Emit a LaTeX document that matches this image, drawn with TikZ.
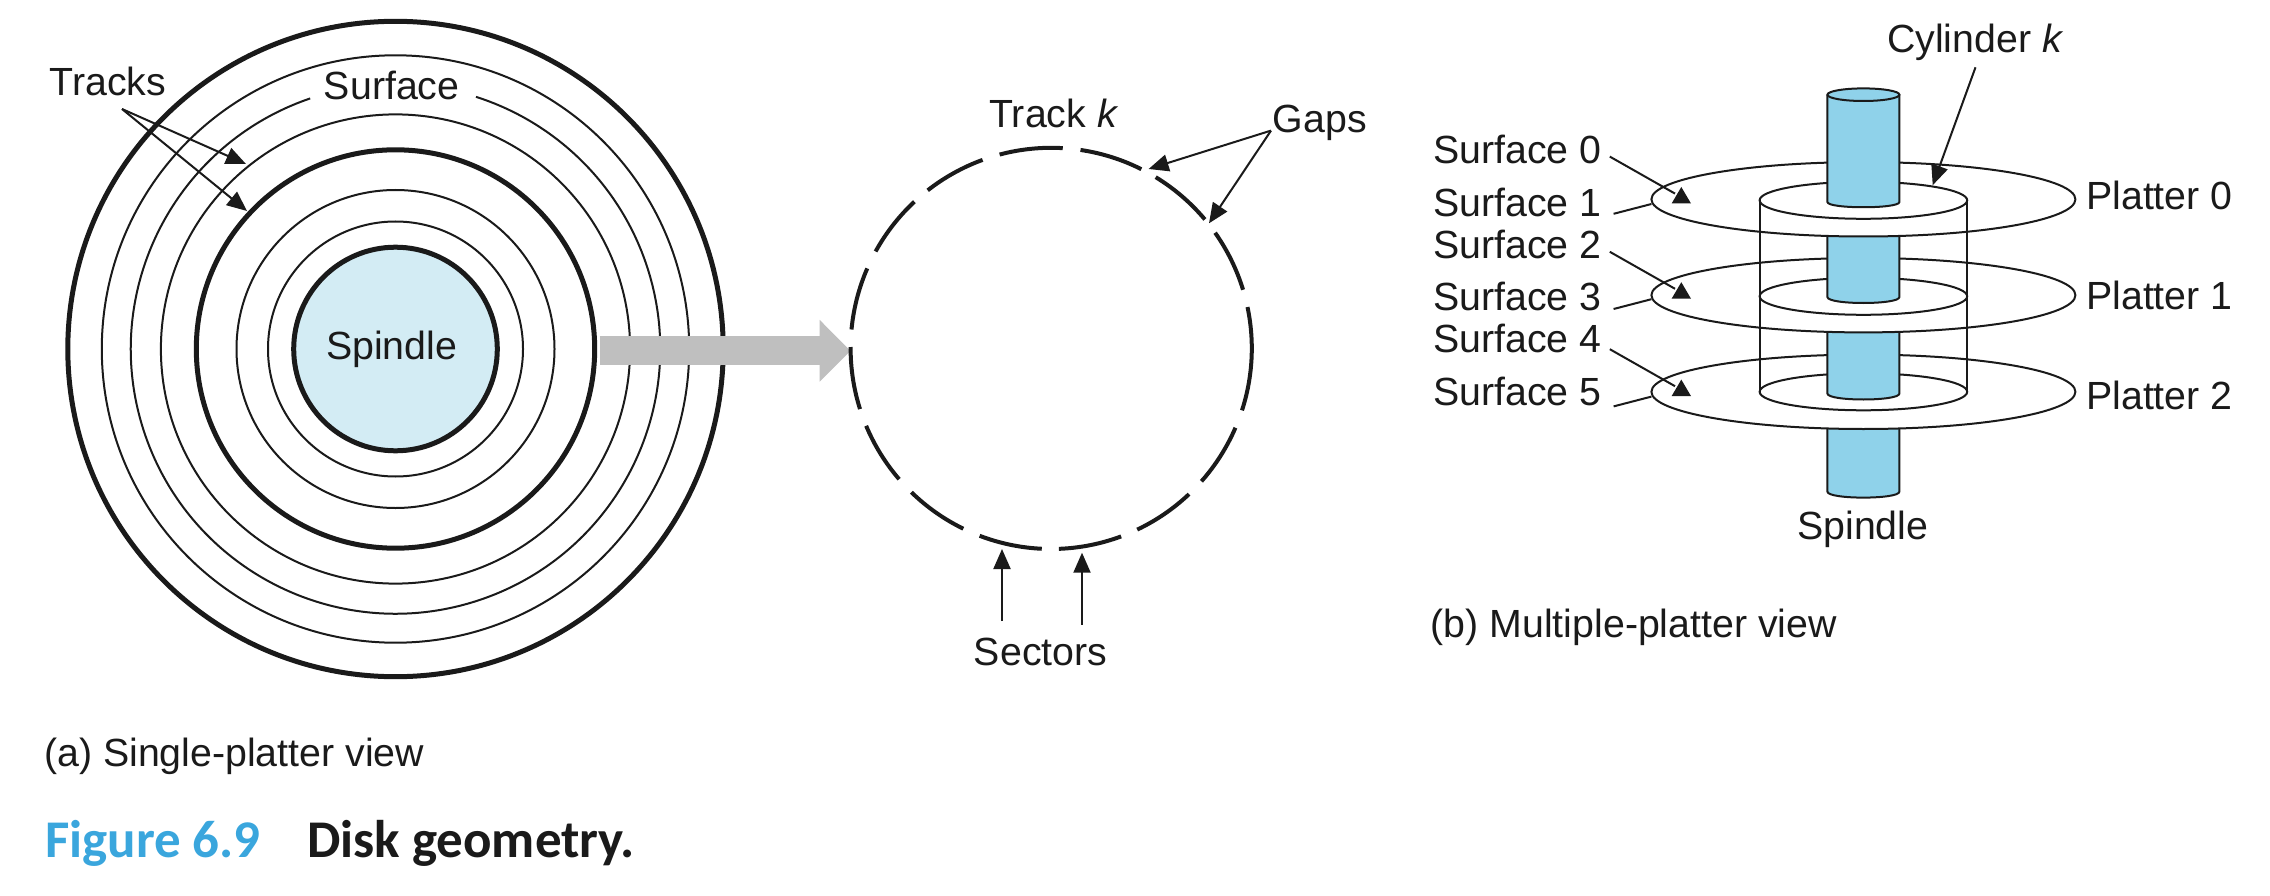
\documentclass[tikz,border=0pt]{standalone}
\usepackage{fontspec}
\setmainfont{Liberation Sans}
\newfontfamily\capfont{Carlito}
\usetikzlibrary{arrows.meta}
\definecolor{spindlelight}{HTML}{D3ECF4}
\definecolor{spindleblue}{HTML}{8FD2EA}
\definecolor{arrowgray}{HTML}{BFBFBF}
\definecolor{figblue}{HTML}{3AA6DD}
\definecolor{inkblack}{HTML}{1A1A1A}

\begin{document}
\begin{tikzpicture}[
    x=1pt, y=1pt,
    color=inkblack,
    label/.style={anchor=base, inner sep=0pt, text=inkblack, font=\fontsize{39.3}{44}\selectfont},
    leftlabel/.style={label, anchor=base west},
    thinring/.style={line width=2pt},
    thickring/.style={line width=5pt},
    sector/.style={line width=4pt},
    pointer/.style={line width=2pt, -{Triangle[length=20pt,width=17pt]}},
    leader/.style={line width=2pt},
    rim/.style={line width=2pt, fill=white},
    spindlepart/.style={line width=2pt, fill=spindleblue},
    bigarrow/.style={draw=arrowgray, line width=29pt, -{Triangle[length=31pt,width=60pt,color=arrowgray]}}
]
    \useasboundingbox (0,0) rectangle (2270,-896);

    % single platter
    \coordinate (disk) at (395.5,-349);
    \draw[thickring] (disk) circle (327.7);
    \draw[thickring] (disk) circle (199.2);
    \draw[thickring, fill=spindlelight] (disk) circle (101.8);
    \foreach \r in {293.7,234.6,159,127.5}
        \draw[thinring] (disk) circle (\r);
    \draw[thinring] (disk) ++(108.8:264.7) arc [start angle=108.8, end angle=432.3, radius=264.7];
    \draw[bigarrow] (599.5,-350.8) -- (850.6,-350.8);

    \node[label] (tracks) at (108,-95.5) {Tracks};
    \node[label] (surface) at (391.7,-99.6) {Surface};
    \node[label] (spindlea) at (391.7,-359) {Spindle};
    \coordinate (tracksfork) at (122,-109);
    \coordinate (trackone) at (246,-164);
    \coordinate (tracktwo) at (247,-211);
    \draw[pointer] (tracksfork) -- (trackone);
    \draw[pointer] (tracksfork) -- (tracktwo);

    % one track
    \coordinate (track) at (1051.2,-348.4);
    \foreach \a/\b in {81.6/63.3, 58.6/40, 35.2/17, 11.9/-18, -23.3/-41.5, -46.6/-64.6,
        -69.6/-87.8, -92.7/-110.9, -116/-134.2, -139.3/-157.3, -162.4/-180.4,
        174.6/156.5, 151.1/133, 128/110, 104.9/86.7}
        \draw[sector] (track) ++(\a:200.6) arc [start angle=\a, end angle=\b, radius=200.6];

    \node[label] (trackk) at (1053.9,-128) {Track \textit{k}};
    \node[label] (gaps) at (1319.8,-132.6) {Gaps};
    \node[label] (sectors) at (1040.6,-665) {Sectors};
    \coordinate (gapsfork) at (1271,-130.6);
    \coordinate (gapone) at (1148.6,-169);
    \coordinate (gaptwo) at (1209,-223.3);
    \draw[pointer] (gapsfork) -- (gapone);
    \draw[pointer] (gapsfork) -- (gaptwo);
    \coordinate (sectorone) at (1002,-549);
    \coordinate (sectortwo) at (1082,-552.7);
    \draw[pointer] (1002,-621) -- (sectorone);
    \draw[pointer] (1082,-624.5) -- (sectortwo);

    % platters, bottom one first
    \draw[spindlepart] (1827.4,-420) -- (1827.4,-491.6) .. controls (1827.4,-499.6) and (1899.4,-499.6) .. (1899.4,-491.6) -- (1899.4,-420);
    \draw[rim] (1863.4,-391.8) ellipse (212 and 37.2);
    \draw[rim] (1863.4,-391.8) ellipse (103.8 and 18.5);
    \draw[spindlepart] (1827.4,-320) -- (1827.4,-393.5) .. controls (1827.4,-401.5) and (1899.4,-401.5) .. (1899.4,-393.5) -- (1899.4,-320);
    \draw[rim] (1863.4,-295.2) ellipse (212 and 37.2);
    \draw[rim] (1863.4,-296.3) ellipse (103.8 and 18.5);
    \draw[spindlepart] (1827.4,-224) -- (1827.4,-297) .. controls (1827.4,-305) and (1899.4,-305) .. (1899.4,-297) -- (1899.4,-224);
    \draw[rim] (1863.4,-199.3) ellipse (212 and 37.2);
    \draw[rim] (1863.4,-200.3) ellipse (103.8 and 18.5);
    \draw[spindlepart] (1827.4,-94.7) -- (1827.4,-202) .. controls (1827.4,-209) and (1899.4,-209) .. (1899.4,-202) -- (1899.4,-94.7);
    \draw[spindlepart] (1863.4,-94.7) ellipse (36 and 6.3);
    \draw[leader] (1759.6,-200.3) -- (1759.6,-391.8);
    \draw[leader] (1967.2,-200.3) -- (1967.2,-391.8);

    \foreach \n/\ya/\yb/\yc/\yd in {0/163.3/216.8/0/209.6, 2/258.8/310.6/95.2/309.8, 4/352.7/405.3/192.6/409.5} {
        \pgfmathtruncatemacro{\m}{\n+1}
        \pgfmathtruncatemacro{\p}{\n/2}
        \node[leftlabel] (surf\n) at (1433,-\ya) {Surface \n};
        \node[leftlabel] (surf\m) at (1433,-\yb) {Surface \m};
        \node[leftlabel] (plat\p) at (2086,-\yd) {Platter \p};
        \coordinate (surftip\n) at (1675,-193.6-\yc);
        \coordinate (surftip\m) at (1651.4,-204-\yc);
        \draw[leader] (1609.8,-156.6-\yc) -- (surftip\n);
        \draw[leader] (1613.6,-213.8-\yc) -- (surftip\m);
        \fill[inkblack] (1681.3,-187-\yc) -- (1691,-203.5-\yc) -- (1671.6,-203.5-\yc) -- cycle;
    }

    \node[label] (cylinder) at (1975.2,-52.6) {Cylinder \textit{k}};
    \coordinate (cylindertip) at (1932.7,-185.2);
    \draw[pointer] (1975.5,-67.3) -- (cylindertip);
    \node[label] (spindleb) at (1862.8,-539.6) {Spindle};

    % captions
    \node[leftlabel] (capa) at (44,-766) {(a) Single-platter view};
    \node[leftlabel] (capb) at (1430.5,-637.6) {(b) Multiple-platter view};
    \node[leftlabel, font=\capfont\bfseries\fontsize{53}{58}\selectfont, text=figblue] (fignum) at (45,-857) {Figure 6.9};
    \node[leftlabel, font=\capfont\bfseries\fontsize{53}{58}\selectfont] (figtitle) at (307,-857) {Disk geometry.};
\end{tikzpicture}
\end{document}
